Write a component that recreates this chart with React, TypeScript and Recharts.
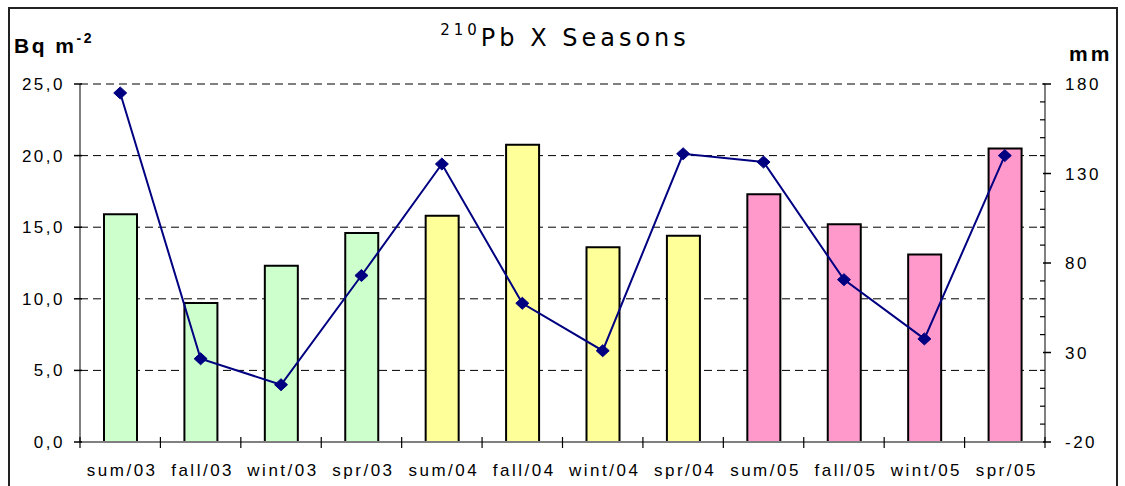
import React from "react";
import {
  ComposedChart,
  Bar,
  Line,
  XAxis,
  YAxis,
  CartesianGrid,
  Cell,
} from "recharts";

const seasons = [
  "sum/03", "fall/03", "wint/03", "spr/03",
  "sum/04", "fall/04", "wint/04", "spr/04",
  "sum/05", "fall/05", "wint/05", "spr/05",
];
// 210Pb flux, Bq m-2 (left axis)
const pbFlux = [15.9, 9.7, 12.3, 14.6, 15.8, 20.75, 13.6, 14.4, 17.3, 15.2, 13.1, 20.5];
// rainfall, mm (right axis)
const rainfall = [175, 26.5, 12, 73, 135.3, 57.5, 31, 141, 136.4, 70.7, 37.6, 140];
const barColors = [
  "#CCFFCC", "#CCFFCC", "#CCFFCC", "#CCFFCC",
  "#FFFF99", "#FFFF99", "#FFFF99", "#FFFF99",
  "#FF99CC", "#FF99CC", "#FF99CC", "#FF99CC",
];

const leftMajor = [0, 5, 10, 15, 20, 25];
const leftMinor = [1, 2, 3, 4, 6, 7, 8, 9, 11, 12, 13, 14, 16, 17, 18, 19, 21, 22, 23, 24];
const rightTicks = [-20, -10, 0, 10, 20, 30, 40, 50, 60, 70, 80, 90, 100, 110, 120, 130, 140, 150, 160, 170, 180];
const rightMajor = [-20, 30, 80, 130, 180];

const data = seasons.map((season, i) => ({
  season,
  pb: pbFlux[i],
  rain: rainfall[i],
}));

const labelFont = {
  fontFamily: "'Liberation Sans', Arial, sans-serif",
  fontSize: 17,
  letterSpacing: 2.5,
  fill: "#000",
};

function LeftTick(props: any) {
  const { x, y, payload } = props;
  return (
    <g>
      <line x1={x - 6} x2={x + 2} y1={y} y2={y} stroke="#000" strokeWidth={1.5} />
      <text x={x - 15} y={y + 6} textAnchor="end" {...labelFont}>
        {payload.value.toFixed(1).replace(".", ",")}
      </text>
    </g>
  );
}

function LeftMinorTick(props: any) {
  const { x, y } = props;
  return <line x1={x} x2={x + 5} y1={y} y2={y} stroke="#000" strokeWidth={1.2} />;
}

function RightTick(props: any) {
  const { x, y, payload } = props;
  const major = rightMajor.includes(payload.value);
  return (
    <g>
      {major ? (
        <line x1={x - 2} x2={x + 6} y1={y} y2={y} stroke="#000" strokeWidth={1.5} />
      ) : (
        <line x1={x - 5} x2={x} y1={y} y2={y} stroke="#000" strokeWidth={1.2} />
      )}
      {major && (
        <text x={x + 20} y={y + 6} textAnchor="start" {...labelFont}>
          {payload.value}
        </text>
      )}
    </g>
  );
}

function SeasonTick(props: any) {
  const { x, y, payload, index, visibleTicksCount, width } = props;
  const half = payload.offset || width / visibleTicksCount / 2;
  return (
    <g>
      <line x1={x - half} x2={x - half} y1={y - 5} y2={y + 6} stroke="#000" strokeWidth={1.2} />
      {index === visibleTicksCount - 1 && (
        <line x1={x + half} x2={x + half} y1={y - 5} y2={y + 6} stroke="#000" strokeWidth={1.2} />
      )}
      <text x={x + 2} y={y + 34} textAnchor="middle" {...labelFont}>
        {payload.value}
      </text>
    </g>
  );
}

function Diamond(props: any) {
  const { cx, cy } = props;
  if (cx == null || cy == null) return null;
  return (
    <polygon
      points={`${cx},${cy - 6} ${cx + 6.5},${cy} ${cx},${cy + 6} ${cx - 6.5},${cy}`}
      fill="#000080"
      stroke="#000080"
    />
  );
}

export default function App() {
  return (
    <div
      style={{
        position: "absolute",
        left: 0,
        top: 0,
        width: 1125,
        height: 486,
        overflow: "hidden",
        background: "#fff",
      }}
    >
      <ComposedChart
        width={1125}
        height={486}
        data={data}
        margin={{ top: 84, right: 0, bottom: 0, left: 0 }}
      >
        <CartesianGrid
          yAxisId="left"
          vertical={false}
          stroke="#000"
          strokeDasharray="8 5"
        />
        <XAxis
          dataKey="season"
          height={44}
          interval={0}
          tickSize={0}
          tickMargin={0}
          tickLine={false}
          axisLine={{ stroke: "#808080", strokeWidth: 2 }}
          tick={<SeasonTick />}
        />
        <YAxis
          yAxisId="leftMinor"
          width={0}
          domain={[0, 25]}
          ticks={leftMinor}
          interval={0}
          tickSize={0}
          tickMargin={0}
          tickLine={false}
          axisLine={false}
          tick={<LeftMinorTick />}
        />
        <YAxis
          yAxisId="left"
          width={80}
          domain={[0, 25]}
          ticks={leftMajor}
          interval={0}
          tickSize={0}
          tickMargin={0}
          tickLine={false}
          axisLine={{ stroke: "#808080", strokeWidth: 2 }}
          tick={<LeftTick />}
        />
        <YAxis
          yAxisId="right"
          orientation="right"
          width={80}
          domain={[-20, 180]}
          ticks={rightTicks}
          interval={0}
          tickSize={0}
          tickMargin={0}
          tickLine={false}
          axisLine={{ stroke: "#808080", strokeWidth: 2 }}
          tick={<RightTick />}
        />
        <Bar
          yAxisId="left"
          dataKey="pb"
          barSize={33}
          stroke="#000"
          strokeWidth={2}
          isAnimationActive={false}
        >
          {data.map((d, i) => (
            <Cell key={d.season} fill={barColors[i]} />
          ))}
        </Bar>
        <Line
          yAxisId="right"
          dataKey="rain"
          stroke="#000080"
          strokeWidth={2}
          dot={<Diamond />}
          activeDot={false}
          isAnimationActive={false}
        />
      </ComposedChart>
      <svg
        width={1125}
        height={486}
        style={{ position: "absolute", left: 0, top: 0, pointerEvents: "none" }}
      >
        <rect x={9} y={8} width={1108} height={500} fill="none" stroke="#222" strokeWidth={2} />
        <text
          x={565}
          y={46}
          textAnchor="middle"
          fontFamily="'DejaVu Sans', Verdana, sans-serif"
          fontSize={24}
          letterSpacing={4}
          fill="#000"
        >
          <tspan fontSize={15} dy={-11}>210</tspan>
          <tspan dy={11}>Pb X Seasons</tspan>
        </text>
        <text
          x={14}
          y={53}
          fontFamily="'Liberation Sans', Arial, sans-serif"
          fontWeight="bold"
          fontSize={21}
          letterSpacing={2.5}
          fill="#000"
        >
          Bq m
          <tspan fontSize={14} dy={-10}>-2</tspan>
        </text>
        <text
          x={1069}
          y={61}
          fontFamily="'Liberation Sans', Arial, sans-serif"
          fontWeight="bold"
          fontSize={21}
          letterSpacing={3}
          fill="#000"
        >
          mm
        </text>
      </svg>
    </div>
  );
}
